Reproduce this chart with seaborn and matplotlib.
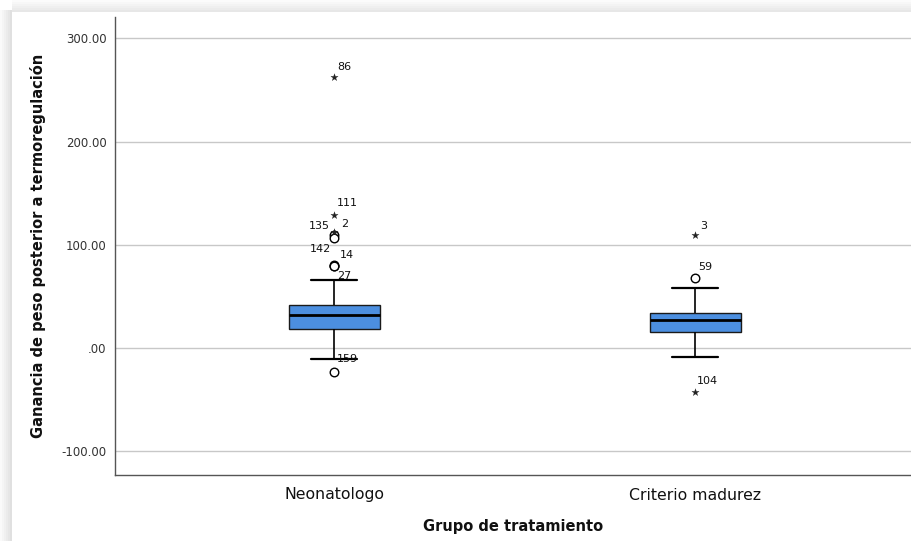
import numpy as np
import pandas as pd
import matplotlib
matplotlib.use("Agg")
import matplotlib.pyplot as plt
from matplotlib.patches import Rectangle
import seaborn as sns

# ---- data ----
groups = ["Neonatologo", "Criterio madurez"]
# five-number summaries: lower whisker, Q1, median, Q3, upper whisker
neo_summary = [-10.7, 18.1, 32.0, 41.6, 65.9]
crit_summary = [-8.4, 15.8, 27.1, 34.2, 58.4]

# outliers: group, value, kind (o = circle, * = extreme), case label
out_group = ["Neonatologo"] * 9 + ["Criterio madurez"] * 3
out_value = [262.6, 128.8, 112.6, 109.4, 106.6, 80.6, 79.8, 79.2, -22.9, 109.4, 67.5, -42.3]
out_kind = ["*", "*", "*", "o", "o", "o", "o", "o", "o", "*", "o", "*"]
out_label = ["86", "111", "135", "2", "", "142", "14", "27", "159", "3", "59", "104"]

y_ticks = [-100, 0, 100, 200, 300]
y_tick_labels = ["-100.00", ".00", "100.00", "200.00", "300.00"]

# ---- figure ----
sns.set_theme(style="white")
plt.rcParams["font.family"] = ["DejaVu Sans"]

fig = plt.figure(figsize=(9.12, 5.41), dpi=100)
fig.patch.set_facecolor("white")

# soft grey frame on the left and top edges
W, H = 912, 541
for i, a in enumerate(np.linspace(0.02, 0.12, 6)):
    fig.patches.append(Rectangle(((i * 2) / W, 0), 2 / W, (H - 10) / H, transform=fig.transFigure,
                                 facecolor="black", alpha=a, edgecolor="none", zorder=0))
    fig.patches.append(Rectangle((12 / W, 1 - (i * 2 + 2) / H), 1, 2 / H, transform=fig.transFigure,
                                 facecolor="black", alpha=a * 0.8, edgecolor="none", zorder=0))

ax = fig.add_axes([115 / W, 1 - 475 / H, 1 - 115 / W, (475 - 17) / H])
ax.set_zorder(2)
ax.set_facecolor("white")

df = pd.DataFrame({
    "grupo": [groups[0]] * 5 + [groups[1]] * 5,
    "valor": neo_summary + crit_summary,
})

sns.boxplot(data=df, x="grupo", y="valor", order=groups, whis=(0, 100), showfliers=False,
            width=0.252, color="#4C8FE0", saturation=1, linecolor="#1a1a1a", linewidth=1.0,
            medianprops=dict(color="black", linewidth=2.0),
            capprops=dict(color="black", linewidth=1.6),
            whiskerprops=dict(color="black", linewidth=1.2),
            ax=ax)

odf = pd.DataFrame({"grupo": out_group, "valor": out_value, "kind": out_kind})
circ = odf[odf["kind"] == "o"]
star = odf[odf["kind"] == "*"]
sns.scatterplot(data=circ, x="grupo", y="valor", marker="o", s=38, facecolor="white",
                edgecolor="black", linewidth=1.0, ax=ax, zorder=5)
sns.scatterplot(data=star, x="grupo", y="valor", marker="*", s=30, color="#222222",
                edgecolor="#222222", linewidth=0.2, ax=ax, zorder=5)

# case labels (offsets in pixels -> points)
px = 0.72
label_style = {
    "86": (3, 10, "left"), "111": (3, 12, "left"), "135": (-4, 6, "right"),
    "2": (7, 11, "left"), "142": (-3, 16, "right"), "14": (6, 11, "left"),
    "27": (3, -10, "left"), "159": (3, 13, "left"), "3": (5, 9, "left"),
    "59": (3, 11, "left"), "104": (2, 11, "left"),
}
for g, v, lab in zip(out_group, out_value, out_label):
    if not lab:
        continue
    dx, dy, ha = label_style[lab]
    ax.annotate(lab, xy=(groups.index(g), v), xytext=(dx * px, dy * px),
                textcoords="offset points", ha=ha, va="center", fontsize=8,
                color="#111111", zorder=6)

ax.set_xlim(-0.607, 1.601)
ax.set_ylim(-123.0, 320.6)
ax.set_yticks(y_ticks)
ax.set_yticklabels(y_tick_labels, fontsize=8.5, color="#333333")
ax.tick_params(axis="x", labelsize=11.3, colors="#111111", length=0, pad=9)
ax.tick_params(axis="y", length=0, pad=6)
ax.yaxis.grid(True, color="#c8c8c8", linewidth=1.0)
ax.set_axisbelow(True)

for s in ["top", "right"]:
    ax.spines[s].set_visible(False)
for s in ["left", "bottom"]:
    ax.spines[s].set_color("#555555")
    ax.spines[s].set_linewidth(1.0)

ax.set_xlabel("Grupo de tratamiento", fontsize=10.5, fontweight="bold", labelpad=12, color="#111111")
ax.set_ylabel("Ganancia de peso posterior a termoregulación", fontsize=10.5, fontweight="bold",
              labelpad=11, color="#111111")

fig.savefig("out.png", dpi=100, facecolor="white")
